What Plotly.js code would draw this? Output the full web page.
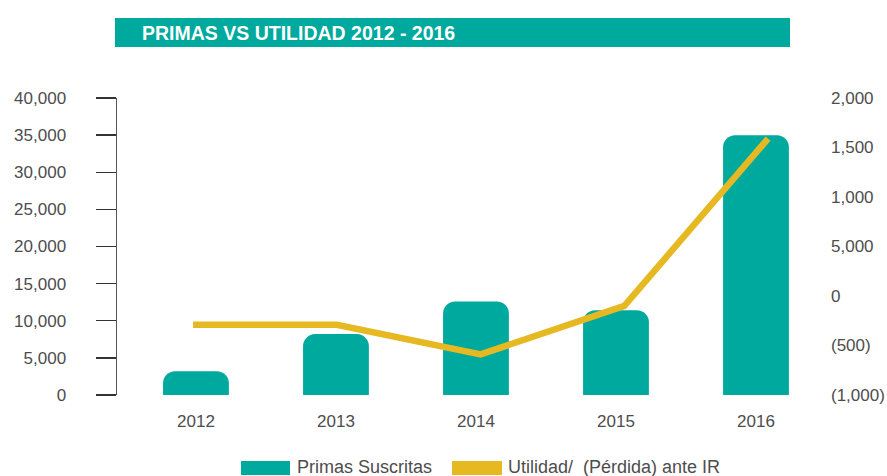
<!DOCTYPE html>
<html>
<head>
<meta charset="utf-8">
<script src="https://cdn.plot.ly/plotly-3.0.1.min.js"></script>
<style>html,body{margin:0;padding:0;background:#fff;}#chart{width:887px;height:476px;}</style>
</head>
<body>
<div id="chart"></div>
<script>
// ---- data ----
const years = ["2012", "2013", "2014", "2015", "2016"];
const primasSuscritas = [3200, 8200, 12600, 11400, 35000];
const utilidadAnteIR = [-290, -290, -590, -100, 1590];
const seriesNames = ["Primas Suscritas", "Utilidad/\u00a0\u00a0(Pérdida) ante IR"];
const chartTitle = "PRIMAS VS UTILIDAD 2012 - 2016";
const leftTickVals = [0, 5000, 10000, 15000, 20000, 25000, 30000, 35000, 40000];
const rightTickVals = [-1000, -500, 0, 500, 1000, 1500, 2000];
const rightTickText = ["(1,000)", "(500)", "0", "5,000", "1,000", "1,500", "2,000"];

// ---- styles ----
const TEAL = "#00A99D";
const GOLD = "#E6B923";
const TXT = "#4d4d4d";
const FONT = "Liberation Sans, Arial, sans-serif";

const W = 887, H = 476, L = 117, R = 61, T = 98, B = 81;
const pw = W - L - R, ph = H - T - B;
const px = x => (x - L) / pw;
const py = y => (H - B - y) / ph;

const traces = [
  {
    type: "bar", x: years, y: primasSuscritas, name: seriesNames[0],
    marker: { color: TEAL, cornerradius: 12 }, width: 0.47,
    xaxis: "x", yaxis: "y", hoverinfo: "skip"
  },
  {
    type: "scatter", mode: "lines", x: years, y: utilidadAnteIR, name: seriesNames[1],
    line: { color: GOLD, width: 6.5 }, xaxis: "x2", yaxis: "y2", hoverinfo: "skip"
  }
];

const layout = {
  width: W, height: H,
  margin: { l: L, r: R, t: T, b: B, pad: 0 },
  paper_bgcolor: "#fff", plot_bgcolor: "rgba(0,0,0,0)",
  showlegend: false,
  font: { family: FONT, color: TXT, size: 17 },
  xaxis: {
    type: "category", range: [-0.564, 4.5], showgrid: false, zeroline: false,
    showline: false, ticks: "", ticklabelstandoff: 14,
    tickfont: { size: 17, color: TXT }, fixedrange: true
  },
  xaxis2: {
    type: "category", overlaying: "x", range: [-0.529, 4.403], visible: false, fixedrange: true
  },
  yaxis: {
    range: [0, 40000], tickvals: leftTickVals, tickformat: ",",
    showgrid: false, zeroline: false, showline: true, linecolor: "#555", linewidth: 1.5,
    ticks: "outside", ticklen: 20, tickwidth: 1.3, tickcolor: "#333",
    ticklabelstandoff: 26, tickfont: { size: 17, color: TXT }, fixedrange: true
  },
  yaxis2: {
    range: [-1000, 2000], overlaying: "y", side: "right", anchor: "x",
    tickvals: rightTickVals, ticktext: rightTickText,
    showgrid: false, zeroline: false, showline: false, ticks: "",
    ticklabelstandoff: 4, tickfont: { size: 17, color: TXT }, fixedrange: true
  },
  shapes: [
    { type: "rect", xref: "paper", yref: "paper", x0: px(115), x1: px(790), y0: py(47), y1: py(18),
      fillcolor: TEAL, line: { width: 0 }, layer: "below" },
    { type: "rect", xref: "paper", yref: "paper", x0: px(241), x1: px(290), y0: py(475), y1: py(461),
      fillcolor: TEAL, line: { width: 0 } },
    { type: "rect", xref: "paper", yref: "paper", x0: px(452), x1: px(502), y0: py(475), y1: py(461),
      fillcolor: GOLD, line: { width: 0 } }
  ],
  annotations: [
    { xref: "paper", yref: "paper", x: px(140), y: py(33), xanchor: "left", yanchor: "middle",
      text: chartTitle, showarrow: false, font: { family: FONT, size: 19.5, weight: "bold", color: "#fff" } },
    { xref: "paper", yref: "paper", x: px(295), y: py(466.5), xanchor: "left", yanchor: "middle",
      text: seriesNames[0], showarrow: false, font: { family: FONT, size: 18, color: TXT } },
    { xref: "paper", yref: "paper", x: px(506), y: py(466.5), xanchor: "left", yanchor: "middle",
      text: seriesNames[1], showarrow: false, font: { family: FONT, size: 18, color: TXT } }
  ]
};

Plotly.newPlot("chart", traces, layout, { displayModeBar: false, staticPlot: true });
</script>
</body>
</html>
